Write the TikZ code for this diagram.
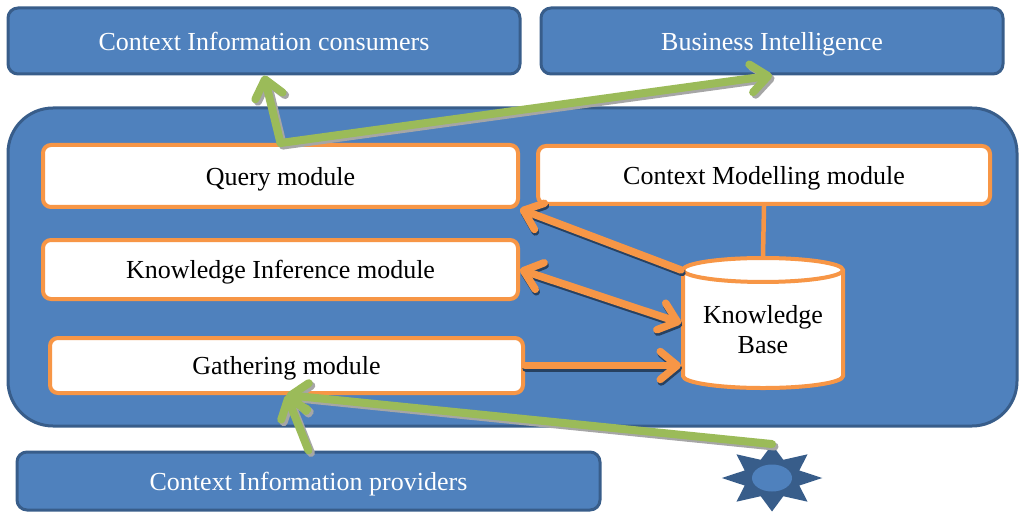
\documentclass[tikz,border=0pt]{standalone}
\usepackage{fontspec}
\setmainfont{Liberation Serif}
\usetikzlibrary{calc,arrows.meta,shapes.geometric}
\definecolor{blueface}{HTML}{4F81BD}
\definecolor{bluedark}{HTML}{385D8A}
\definecolor{orangeline}{HTML}{F79646}
\definecolor{greenline}{HTML}{9BBB59}
\tikzset{
  topbox/.style={draw=bluedark, fill=blueface, line width=3pt, rounded corners=10pt, text=white, inner sep=0pt, text depth=0pt},
  modbox/.style={draw=orangeline, fill=white, line width=4pt, rounded corners=8pt, text=black, inner sep=0pt, text depth=0pt},
  barb/.tip={Straight Barb[length=17pt, width=28pt, round]},
  orangearr/.style={draw=orangeline, line width=7.5pt, line cap=round, line join=round, -barb},
  orangeboth/.style={orangearr, barb-barb},
  orangeshade/.style={orangearr, draw=bluedark!70!black, transform canvas={xshift=1pt, yshift=-2.5pt}},
  orangeshadeboth/.style={orangeshade, barb-barb},
  greenarr/.style={draw=greenline, line width=8pt, line cap=round, line join=round, -barb},
  greenshade/.style={greenarr, draw=black!35, transform canvas={xshift=2.5pt, yshift=-2.5pt}},
}
\begin{document}
\begin{tikzpicture}[x=1pt, y=-1pt, font=\fontsize{26}{30}\selectfont]
			%%%%% START %%%%%
			\useasboundingbox (0, 0) rectangle (1024, 521);
			
			\node[topbox, minimum width=512, minimum height=66] (cic) at (264, 41) {Context Information consumers};
			\node[topbox, minimum width=462, minimum height=66] (bi) at (772, 41) {Business Intelligence};
			
			\node[draw=bluedark, fill=blueface, line width=3pt, rounded corners=45pt, minimum width=1009, minimum height=318] (core) at (512.5, 267) {};
			
			\node[modbox, minimum width=475, minimum height=62] (qm) at (280.5, 176) {Query module};
			\node[modbox, minimum width=452, minimum height=58] (cmm) at (764, 175) {Context Modelling module};
			\node[modbox, minimum width=475, minimum height=59] (ki) at (280.5, 269.5) {Knowledge Inference module};
			\node[modbox, minimum width=473, minimum height=55] (gm) at (286.5, 365.5) {Gathering module};
			
			\node[cylinder, shape border rotate=90, aspect=0.2, draw=orangeline, fill=white, line width=4pt, inner sep=0pt,
			      minimum width=160, minimum height=130, align=center] (kb) at (763, 330) {Knowledge\\Base};
			
			\node[topbox, minimum width=583, minimum height=58] (cip) at (308.5, 481) {Context Information providers};
			
			\node[star, star points=8, star point ratio=1.7, fill=bluedark, inner sep=0pt, minimum size=67, xscale=1.5] (sun) at (772, 478) {};
			\node[ellipse, fill=blueface, minimum width=40, minimum height=27, inner sep=0pt] (suncore) at (sun.center) {};
			
			\draw[orangeline, line width=4.5pt] (cmm.south) -- (kb.north);
			
			% shadows first
			\draw[orangeshade] ($(kb.west)+(0, -60)$) -- (qm.south east);
			\draw[orangeshadeboth] (ki.east) -- ($(kb.west)+(0, -7)$);
			\draw[orangeshade] (gm.east) -- (kb.west |- gm.east);
			\draw[greenshade] (qm.north) -- (cic.south);
			\draw[greenshade] (qm.north) -- (bi.south);
			\draw[greenshade] (cip.north) -- (gm.south);
			\draw[greenshade] (sun.north) -- (gm.south);
			
			\draw[orangearr] ($(kb.west)+(0, -60)$) -- (qm.south east);
			\draw[orangeboth] (ki.east) -- ($(kb.west)+(0, -7)$);
			\draw[orangearr] (gm.east) -- (kb.west |- gm.east);
			
			\draw[greenarr] (qm.north) -- (cic.south);
			\draw[greenarr] (qm.north) -- (bi.south);
			\draw[greenarr] (cip.north) -- (gm.south);
			\draw[greenarr] (sun.north) -- (gm.south);
			
			%%%%% END %%%%%
		\end{tikzpicture}
\end{document}
